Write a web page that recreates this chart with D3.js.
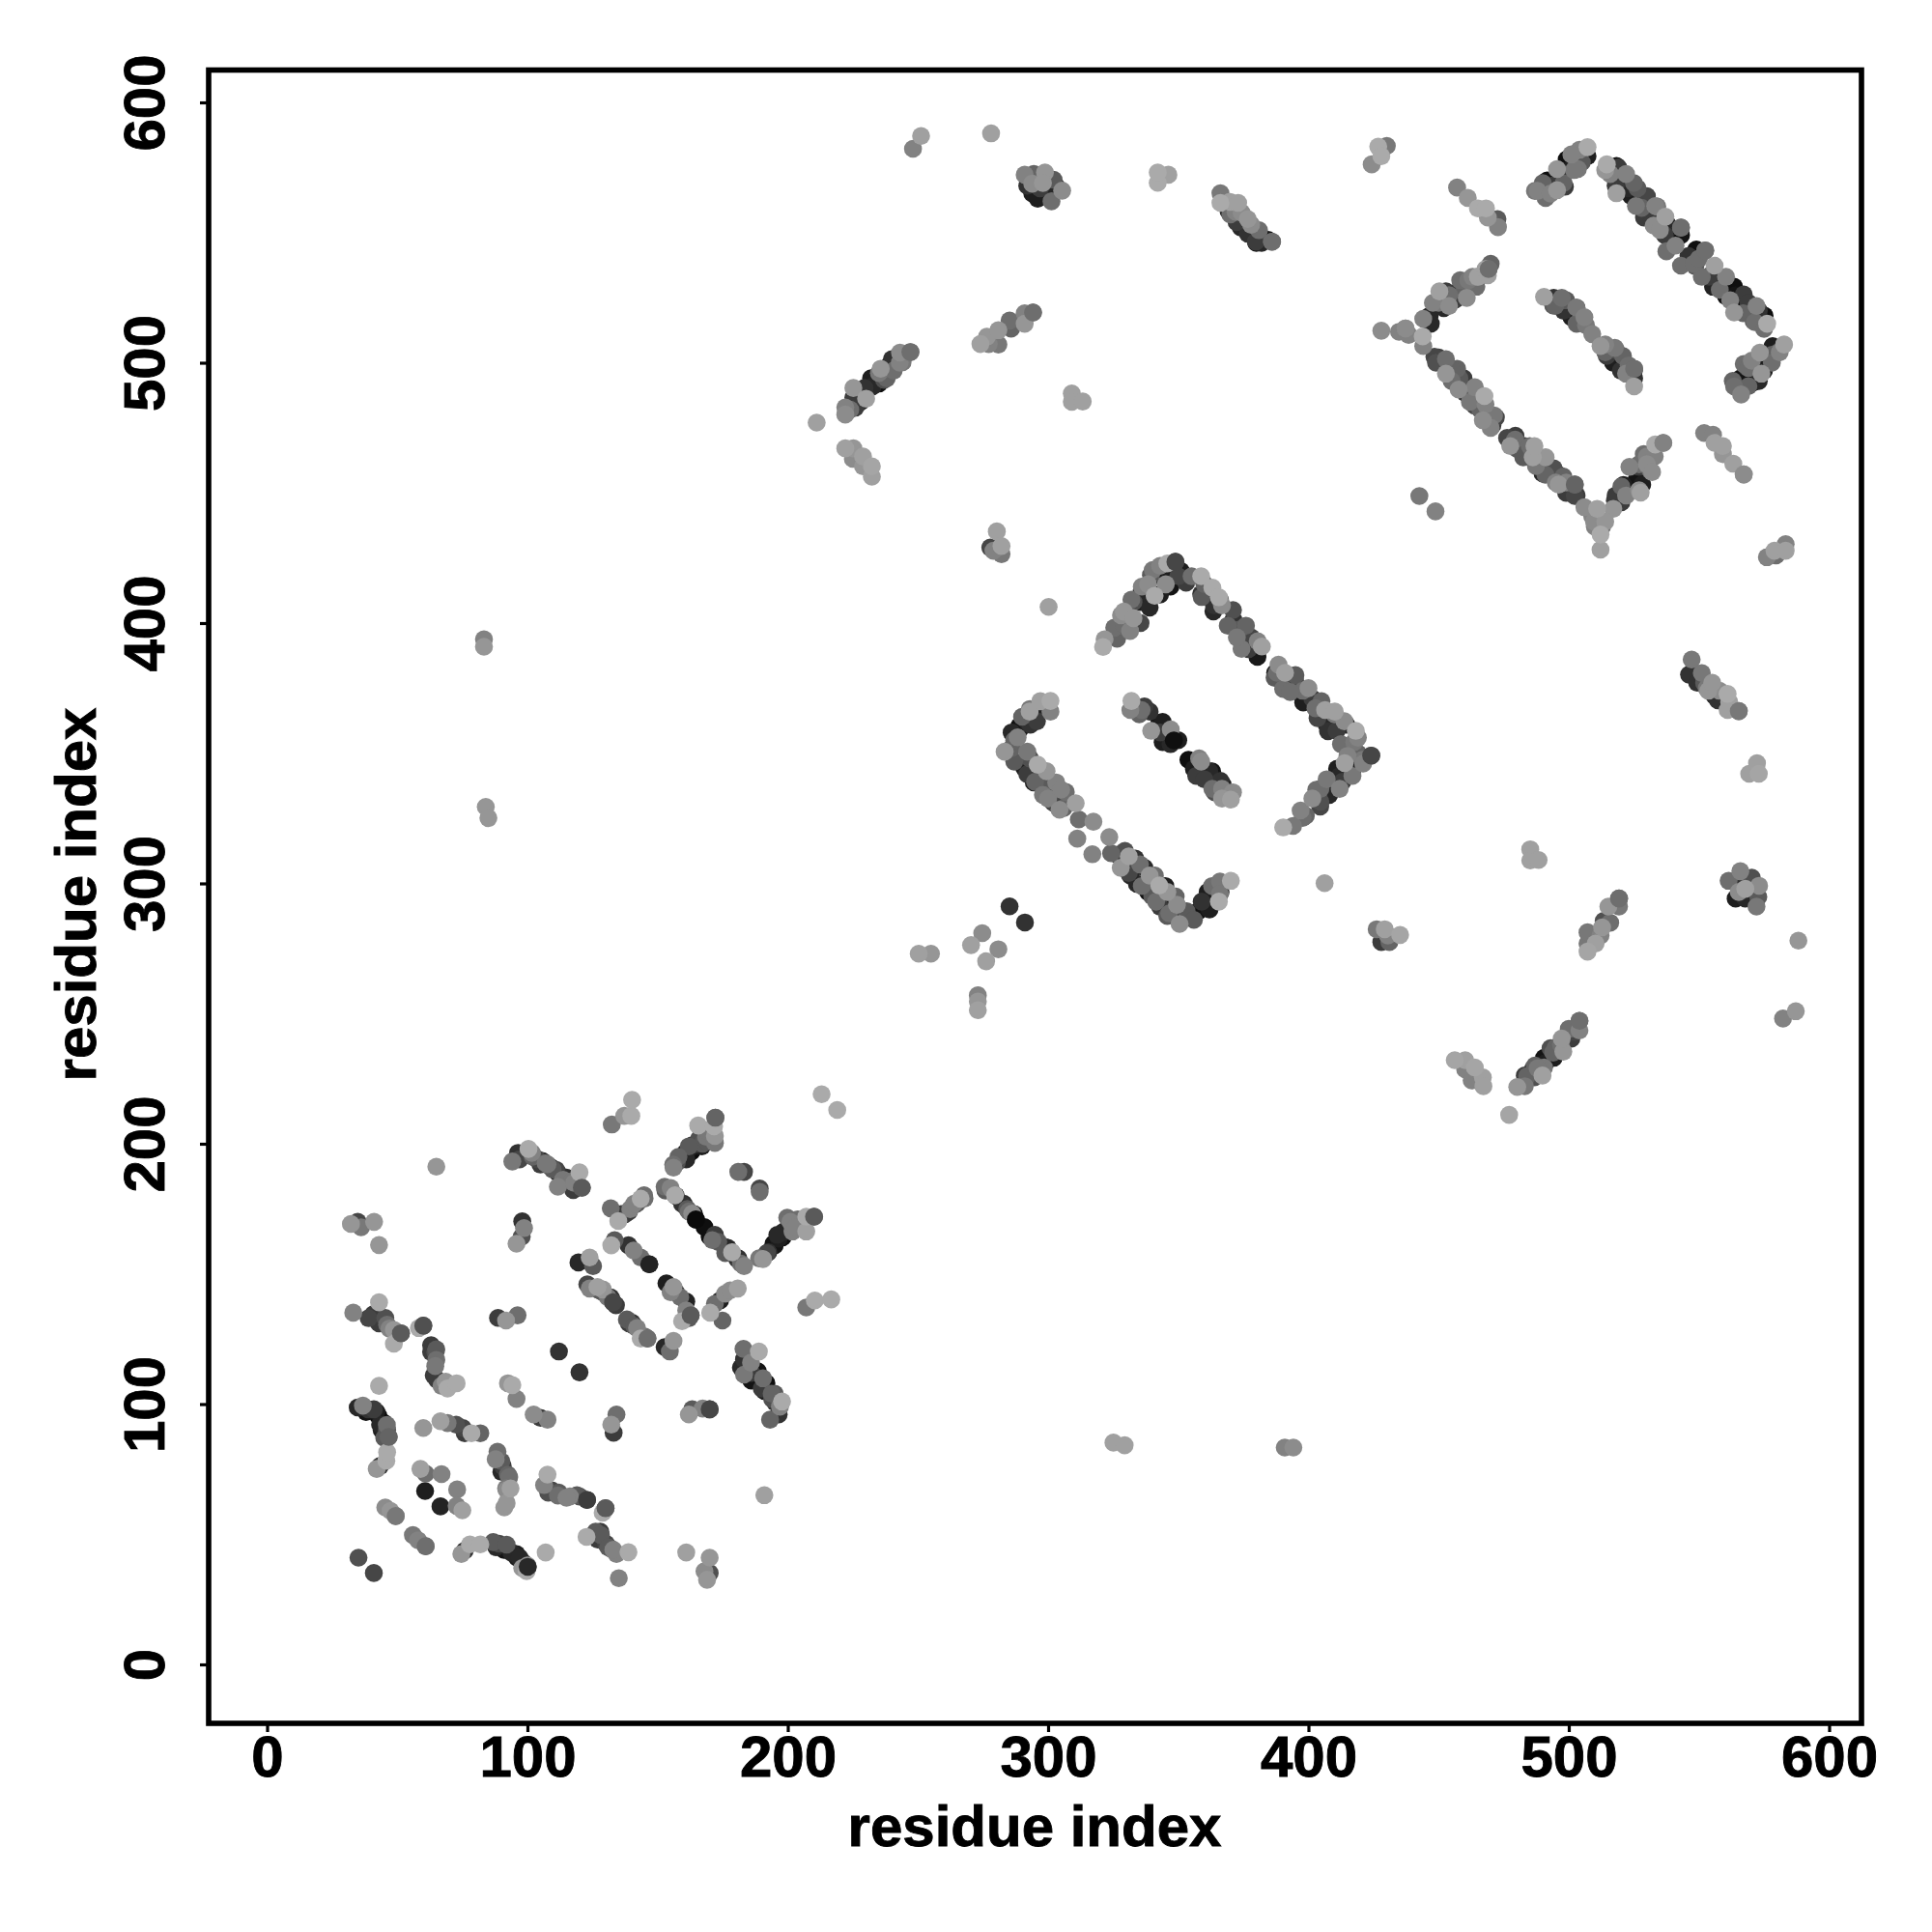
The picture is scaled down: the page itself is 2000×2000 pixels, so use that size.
<!DOCTYPE html>
<html><head><meta charset="utf-8">
<script src="https://cdn.jsdelivr.net/npm/d3@7/dist/d3.min.js"></script>
<style>html,body{margin:0;padding:0;background:#fff}svg{display:block}text{font-family:"Liberation Sans",Arial,sans-serif;font-weight:bold;fill:#000;stroke:#000;stroke-width:0.9px}</style>
</head><body><svg id="c" width="2000" height="2000"></svg>
<script>
const tickValues=[0,100,200,300,400,500,600];
const axisTitle="residue index";
// each contact: [residue x, residue y, shade level]
const domainLowA=[[132.4,207.4,120],[137.2,210.7,150],[139.9,210.7,170],[140.2,216.9,170],[213,219,170],[219,213,170],[65,191.2,150],
[94.2,193.2,120],[96.4,196.5,50],[100.4,198,170],[101.7,196.5,130],[103.7,194.1,70],[105.7,193.4,40],[107.7,192.1,120],[109.7,190.1,90],[111.7,188.8,40],[111.7,183.5,130],[113.7,186.2,120],[117,185.5,120],[117.6,182.2,60],[120,189,170],[120.9,183.1,90],
[95.8,161.6,150],[97.8,164.3,80],[98,170.2,50],[98.7,167.6,130],[32.2,169.2,150],[34.8,170,70],[36.1,167.9,120],[41.1,170,150],[43,161.1,150]];
const domainLowB=[[156.1,190.8,130],[157.4,192.8,80],[159.4,194.8,30],[160.7,196.5,20],[162,198,30],[163.3,199.4,40],[164.7,200,60],[166,200.7,20],[167.3,200,90],[165.6,207,170],[168.6,202.7,120],[172,200.3,120],[171.7,206.7,170],[172.2,210,100],
[132,175.2,110],[134.9,170.3,170],[137.5,172.9,60],[139.5,174.9,130],[141.5,176.9,90],[143.5,178.9,170],[144.8,180.2,110],
[152.7,183.5,110],[154.7,182.2,30],[156.7,180.2,170],[159.4,176.9,50],[161.4,174.9,90],[163.3,173.2,140],[164.7,170.9,10],
[170,164.3,15],[173.3,162.3,90],[175.9,160.3,30],[178.6,158.3,170],[180.6,155.7,50],[183.2,153,130],
[190.5,155.7,150],[192.5,158.3,50],[194.5,161.6,20],[196.5,163.6,30],[198.5,166.3,40],[201.8,166.3,130],[207.1,166.3,160],[199.8,171.6,110],[203.8,170.9,110],[207.1,172,170],[210.1,172,90],
[181,189.2,110],[183.2,189.2,70],[189.2,181.5,110],[189.2,182.8,70]];
const domainLowC=[[132.2,161,170],[133.5,163,90],[138.8,161,50],[140.8,159,130],[143.5,156.3,110],[146.8,153.7,35],[119.6,154.4,40],[123.9,156.3,160],[125.2,153,90],
[123.9,144.4,130],[126.9,145,160],[128.9,143,90],[130.9,141,120],[132.9,139.1,70],[138.2,132.5,90],[140.2,131.2,50],[142.1,129.2,130],[143.5,125.2,170],[146.1,125.2,110],
[152.7,121.9,40],[154.7,120.2,110],[156.1,124.3,150],[153.4,146.4,30],[156.1,145,150],[158.7,141.1,110],[161,139.4,35],[159.4,131.8,170],[162.7,134.1,90],
[170.2,135.1,170],[174.9,132.1,100],[172,138.5,110],[174,139.8,30],[175.9,142.4,140],[177.9,143.7,140],[180.8,144.4,160],[207.1,137.1,120],[210.4,139.8,170],[216.7,140.2,170],
[183,121.2,110],[183.2,117.2,50],[183.2,111.3,120],[188.9,120.2,170],[185.9,115.9,130],[188.5,112.6,20],[190.5,109.9,110],[191.8,108,15],[193.2,94,100],[196.5,96,50],[193.8,104,100],[195.1,100.7,50],[197.8,101,170],
[112.1,120.2,50],[120,112.2,50],[88.7,133.1,60],[91.8,132.1,150],[96.2,134.1,110]];
const domainLowD=[[33.1,135.1,130],[43,139.1,170],[40.8,134.5,60],[45.4,133.1,80],[43.4,132.5,60],[48.7,123.2,170],[46.1,130.5,110],[48.7,128.5,150],[51.4,127.2,90],[58.3,129.2,170],[60,130.1,80],
[63,122.6,60],[64.6,119.9,80],[64.6,114.6,120],[65.3,109.3,60],[69.3,106,170],[68.6,108.6,150],[72.8,108,170],[43,107,170],[92.5,108,150],[94.2,107.3,170],[95.8,102,130],[102.4,96,140],[105,94.7,60],[107.7,94,130],
[134.2,96,110],[132.2,92.1,150],[133.1,89,60],[162,96,150],[163.3,98,90],[167.3,98.3,130],[170,98,70],
[34.8,98.7,40],[36.8,99.4,130],[38.8,98,50],[40.8,97.4,20],[42.8,95.4,10],[43.4,92.1,40],[44.8,92.8,10],[46.1,90.1,90],[46.7,87.4,100],[42.1,75.1,150],[43.4,76.2,50],[45.8,78.2,170],[46.1,81.5,170],
[60,90.8,150],[66.6,93.4,160],[69.3,92.7,120],[72.6,92.1,80],[75.2,90.8,70],[75.9,88.8,60],[78.5,88.8,170],[81.9,88.8,100]];
const domainLowE=[[88.5,81.7,110],[87.8,78.8,130],[90.5,76.2,60],[92.5,72.9,100],[91.8,67.6,120],[93.5,67.6,160],[91.1,60.3,150],
[58.9,75.1,160],[60.9,73.3,110],[67,73.1,130],[60.7,66.6,30],[73,67.2,130],[66.6,60.7,35],[72.8,60.9,130],[75,59.2,160],
[107.7,72.9,170],[106.4,68.9,130],[109.4,66.9,70],[111.7,64.9,110],[116.3,64.5,130],[120,64.5,80],[122.9,63.2,60],[128.9,58.3,170],[130,60,90],
[45.4,60.3,140],[47.4,59,150],[49.4,57,120],[56,49.7,120],[58,47.7,130],[60.9,45.4,110],
[74.6,42.4,150],[75.9,43.7,50],[77.9,46.1,170],[81.9,46.1,170],[86.9,47,90],[89.1,46.4,70],[91.8,45,20],[93.8,43,40],[95.8,42.4,30],[99.7,35.8,170],[98.4,39.1,40],[100.1,37.5,40],[107,43,170],[35.1,41,80],[41,35.1,70],
[122.7,49,170],[126.2,51,90],[128.2,49.7,90],[130.2,46.4,70],[132.2,44.4,90],[134.2,42.4,130],[138.8,43.1,170],[135.1,33.1,130],[161,43,160],[170,41,150],[169,32.5,150],[168,35.8,140],[170,35.1,80],[191,65,160],
[83.3,393.8,130],[83.3,390.9,150],[84,329.4,150],[85,325.1,150],[325.1,85.2,160],[329.4,84.2,160],[390.9,83.3,130],[394.2,83.3,140]];
const domainMidA=[[277.8,429,70],[280.3,435.2,160],[279,427.8,130],[282.1,426.5,120],[282.1,429.6,160],[300.2,406.2,160],
[321.1,390.8,170],[321.7,393.8,150],[325.4,398.2,110],[329.1,399.4,110],[329.1,404.4,150],[332.8,401.9,150],[332.8,408.1,80],[335.3,408.1,30],[335.9,411.8,40],[338.4,414.9,140],[340.9,410.5,170],[340.2,420.4,120],[342.7,418,30],[345.2,414.9,140],[347.7,418,30],[345.8,422.9,170],[348.9,423.5,70],
[355.1,418,110],[358.8,411.2,50],[358.8,418,170],[363.7,406.8,50],[363.1,413.6,170],[365.6,409.9,170],[366.8,406.8,140],[371.2,401.3,50],[373.6,397.6,90],[374.3,390.1,120],[374.9,394.5,40],[378,394.5,70],[380.4,387,25],[382.1,391,160],
[387.2,380.9,30],[387.9,380.9,110],[391,380.9,160],[390.3,374.7,110],[394.9,377.8,70],[397.8,374,110],[401.5,371,60],[402.7,367.3,110],[406.4,366.6,160],[410.1,366,160],[407,361,40],[410.8,358.6,60],[413.8,362.3,140],[417.6,354.3,120],[418.2,358.6,170],
[390.3,321.5,170],[394.1,322.1,120],[397.8,325.2,110],[401.5,332.6,140],[404.6,331.4,80],[404.6,336.3,110],[407.7,335.7,15],[408.9,340,30],[412,336.3,130],[412,341.3,40],[413.9,346.2,160],[416.9,341.3,120],[416.9,346.8,20],[420.7,347.5,120],[424.1,349.1,70]];
const domainMidB=[[332,370.1,170],[331.6,366.6,130],[335.9,366.6,110],[339,366,50],[339.6,358.6,150],[342.7,361.7,20],[344,354.3,30],[347.1,359.2,140],[348.3,354.9,15],
[353.9,347.5,15],[356.9,341.3,60],[358.8,346.8,140],[361.9,343.1,40],[363.1,336.3,110],[366.2,339.4,50],[366.8,336.3,130],[366.8,332.6,150],[370.2,332.2,160],
[292.9,366,160],[296.9,366,35],[295.7,362.3,60],[300.9,366,130],[300.9,370.1,170],[293.2,361,50],[288.9,360.4,15],[288.3,356.1,130],
[283.3,350.6,150],[287,346.8,90],[292,350.6,120],[290.8,344.4,30],[296,345.6,170],[294.5,338.8,30],[299.4,343.1,150],[298.8,337.6,15],[300,332.6,130],[303.1,338.8,130],[303.8,335.1,40],[304.4,328.3,140],[306.8,335.1,110],[310.6,330.8,160],[311.8,324.6,110],[317.4,323.7,140],
[311.2,317.2,130],[317,311.2,130],[323.5,317.8,140],[324.2,311.6,100],[326.6,311,60],[327.9,306,150],[331,310.4,160],[331.6,303,40],[335.3,307.3,110],[334.1,299.8,40],[339,303,150],[338.4,296.7,15],[342.7,299.2,170],[341.5,293,110],[345.8,291.8,15],[345.8,296.7,150],[345.8,287.5,90],[349.5,291.8,140],[350.5,284.4,140],[353.2,289.3,90],
[357.6,289.3,15],[360.7,290.6,20],[361.3,296.7,30],[366.2,296.7,20],[365.6,293,170],[366,300.7,120],[370.2,301,170],
[285.2,291.2,50],[291.1,285,50],[250.3,273,160],[255,273,150],[274.7,280.9,140],[270.4,276.3,160],[280.9,274.7,140],[276.2,270.1,160],[273,257,130],[273,254.6,150],[273,251.3,160],[406.2,300.1,160]];
const domainHighA=[[251.2,587.1,160],[248.1,582.2,130],[278.1,588.1,160],
[291,572.2,130],[293.9,565.1,30],[294.5,572.5,100],[293.9,568.8,140],[298.8,573.1,150],[296.9,567,60],[300.7,565.7,30],[301.3,562,110],[302.1,570.3,90],[305.4,566.1,140],
[342.1,569.1,170],[342.1,573.1,170],[346.2,572.2,160],
[366.2,561.4,170],[366.2,565.1,120],[369.3,558.3,40],[369.9,561.8,160],[373,561.4,160],[372.4,554,60],[374.3,557.7,140],[376.7,549.6,50],[376.7,555.2,150],[379.8,546.5,60],[381,550.9,110],[384.5,547.2,20],[386,546.5,110],
[274,507.2,160],[276.5,510,150],[277.2,507.2,130],[280.9,512.5,150],[280.9,507,120],[285.2,516.2,110],[285.8,513.1,100],[291,519,130],[291,515,150],[294.2,519.3,110],
[222.1,480.1,140],[222.1,482.8,130],[226,482.8,60],[225.2,490.3,150],[225.2,486.6,60],[230.1,486.2,160],[229.5,490.3,50],[232.6,490.9,40],[232,494,30],[237,493.4,80],[235.7,497.7,150],[237,497,40],[240.7,497,110],[240,501.4,50],[244.1,500.2,120],[243.1,503.9,140],[247.1,504.1,110],[211.1,477,160],
[222.1,467.1,160],[225.2,467.1,150],[225,463.1,140],[228.9,464,160],[228.9,460.2,150],[232.3,460.2,165],[232.3,456.2,160],[309.1,488.2,160],[309.1,485,160],[313.3,485.1,160]];
const domainHighB=[[424.3,576.2,140],[426.8,583,170],[428,579.3,170],[430.1,583.3,120],[457.1,567.3,130],[461.2,563.3,150],[465.1,559.3,170],[468.2,559.3,170],[468.9,555.8,150],[472.6,555.2,90],[472.8,552.1,130],
[488,566,130],[491.1,563.3,110],[491.7,570,15],[494.2,568.2,60],[495.5,566.3,150],[498.5,567.6,60],[495.5,574.4,150],[499.8,573.8,30],[499.2,578.1,15],[503.5,574.4,120],[504.1,581.8,130],[507.2,579.3,30],[507.2,582.8,170],
[514.6,576.2,170],[515.9,572.5,130],[518.3,575.6,15],[518.3,565.1,160],[519.6,571.3,50],[522,572.5,130],[522.7,567,40],[526.4,567,90],[525.8,560.2,120],[528.9,562.9,15],[528.9,555.8,60],[533.2,560.2,130],[532.6,552.7,140],[537.1,556.1,160],[536.9,549,60],[543.1,549,20],[543.1,551.9,110],
[537.5,542.8,110],[543.1,537.3,110],[549,543.5,15],[552.4,543.1,110],[548.6,537,90],[551.1,533,110],[556,537.3,160],[555.4,529.2,35],[560.4,533,130],[560.4,525.5,15],[563.5,529.2,15],[567.2,526.2,60],[563.5,519.3,150],[564.1,521.8,15],[568.4,519.3,40],[572.1,521.8,130],[571.5,515.6,110],[575.2,518.1,15],[576.2,515,170],
[563.5,490.9,110],[566.2,487.8,130],[567.2,499.5,110],[568.4,498.3,50],[570.3,492.1,15],[570.3,500.8,130],[574,495.8,150],[573.4,499.5,15],[573.4,503.9,150],[577.7,500.8,15],[578.3,506.4,30],[580.2,503.9,100],[582.7,507,160],
[490.5,525.3,160],[494.2,524.9,50],[497.3,524.9,110],[494.8,521.8,100],[498.5,522.4,20],[502.9,521.2,120],[501,517.5,30],[506.6,514.4,120],[506,517.5,130],
[512.2,506.4,150],[514,507,130],[514.6,502.6,60],[517.7,505.7,120],[520.8,502.6,100],[521.4,498.9,15],[522,495.8,130],[525.1,490.9,160],[525.1,494,50],[525.1,497.7,110]];
const domainHighC=[[444.1,516.9,130],[446.6,518.1,40],[447.8,523,130],[450.3,521.8,30],[450.3,527.4,160],[452.8,527.4,60],[454,521.8,140],[456.5,524.3,60],[458.3,531.7,110],[460.8,524.9,140],[461.4,531.7,120],[464.5,529.2,110],[465.1,533,160],[468.9,533.6,160],[469.2,536,110],
[428,512.3,140],[434.8,511.9,130],[437.3,513.2,140],[438.5,510.7,130],[444.1,506.4,130],[443.9,510.1,170],
[448.4,502.3,70],[452.8,495.8,150],[452.8,501.4,110],[457.1,497.7,100],[457.7,489.7,140],[459.6,494,60],[460.2,488.4,50],[463.9,490.6,130],[463.9,483.5,70],[467,477.9,140],[467.6,483.5,50],[467.6,487.2,170],[470.7,476.1,60],[471.3,479.8,120],
[476.3,471.1,70],[477.5,468,150],[479.4,470.5,110],[483.1,468,60],[482.5,463.7,90],[486.2,463.7,160],[486.8,468,160],[487.4,460.3,120],[491.1,463.7,150],[489.9,457.5,40],[494.2,459.4,80],[494.8,456.3,30],[496.1,453.2,150],[497.9,456.3,100],[502.3,448.8,70],[502.3,453.2,100],
[506,444.5,140],[509.7,439,140],[510.9,443.9,160],[512.2,428.2,160],[512.2,434,170],[512.8,437.1,110],
[517.1,443.9,150],[517.7,447,60],[520.2,446.4,60],[520.2,452.5,100],[523.3,451.3,20],[523.3,460,130],[527,460,60],[527.6,450.1,160],[528.2,453.2,30],[528.8,464.9,110],[531.3,458.7,110],[533.2,468.6,170],[536.3,469.2,130],
[552,473,130],[555.4,472.3,130],[556,469.2,160],[559.2,468,160],[559.2,464.9,150],[563.2,461.2,160],[567.2,457.1,140],[442.6,448.8,120],[448.8,442.9,130],
[576.1,425.3,130],[579.6,426,110],[579,427.8,160],[583.3,427.8,160],[583.3,430.3,130]];
const domainHighD=[[546.2,380.2,50],[547.2,386,120],[549.3,377.1,50],[551.1,380.8,120],[553.6,374,150],[555.1,377.1,150],[557.3,370.3,50],[557.9,374,140],[561,366.6,160],[561.6,369.7,160],[561,372.8,170],[565.3,366.2,120],
[569.3,342.1,160],[572.3,346.2,160],[573,342.1,165],
[561.4,301,110],[564.1,294.2,30],[565.9,304.7,130],[565.3,300.4,50],[565.3,296.7,140],[567.8,294.2,40],[567.8,297.9,160],[570.3,302.2,80],[572.1,291.1,120],[572.8,294.8,90],[573.1,299.1,140],[588.2,278,150],[582.3,248.1,130],[587.2,250.9,150],
[507.2,273.8,165],[507.2,276.9,120],[507.2,281.2,120],[510.3,276.9,160],[512.2,280,130],[512.8,283.1,150],[513.4,285.6,80],[515.9,284.9,110],[515.2,291.1,150],[519.3,291.1,120],[519.3,294.2,110],
[485.2,313.1,160],[485.2,308.8,160],[488.4,309,160],[426.2,282.4,120],[428,277.5,60],[429.3,282.4,160],[431.1,277.5,100],[430.5,280,130],[435.2,280.2,165],
[456.2,232.1,165],[460.2,232.1,160],[460.2,228.6,130],[463.9,229.3,165],[462.7,224.3,130],[467,225.5,160],[467.2,222.1,160],[477.1,211.1,165],
[480.2,221.8,150],[483.1,222.1,120],[483.1,226.2,60],[486.8,225.5,80],[486.2,228.6,60],[490.5,229.3,120],[489.9,226.2,160],[490.5,233,20],[494.2,233,30],[493,236.7,80],[497.9,235.4,150],[497.3,240.4,150],[501,240.4,60],[500,244.1,110],[504.1,243.5,130],[504.1,247.2,110]];
const sideMid=[[286,352,100],[292,342,60],[293,348,80],[295,339,100],[297,341,40],[298,334,120],[301,339,90],[302,331,70],[305,336,130],[306,329,100],[329.5,312.5,80],[331,304,70],[333.5,309.5,50],[336,299,110],[337,306,40],[340,295,90],[341,303,110],[343,291,60],[345,299,30],[346.5,288.5,110],[349,295,100],[350,288,40],[359,293,50],[356,286,90],[363,299,110],[362,290,30],[366,296,120],
[353,415.5,60],[359,410,90],[360,415,100],[363.5,404.5,40],[366,409,120],[369,399,100],[371,405,80],[372.5,394.5,120],[376,399,100],[377,390,60],[380.5,393,130],[387,379,90],[388.5,384,140],[393,373.5,110],[395,380,90],[398,369.5,30],[400,375,140],[403.5,363.5,70],[405,370,100],[407.5,358.5,50],[410,365,120],[412.5,353.5,110],[414.5,361,40],[416,352,90],[419,356,130],
[326.5,394,100],[331.5,397,130],[328,403,140],[335.5,400,70],[332,409,110],[339,406,40],[336,414,130],[343,411,30],[339.5,418.5,90],[347,414,20],[343,422,130],[350,418,70],[351,420,30],
[399,326,100],[397,328,130],[404.5,329.5,70],[403,336,110],[408,334,40],[407,340,120],[413,339,60],[411,344,30],[417,344,30],[415,349,130],[421,346,130],[419,350,100],
[287,355,100],[286,358,40],[289,359,20],[290,364,100],[292,362,40],[293,367,120],[296,366,20],[297,370,160],
[335,365,100],[337,368,60],[343,358,60],[344,362,30],[347,353.5,40],[350,355,30],[356,344,30],[358,348,130],[360,340,60],[363,343,20],[364,335,80],[367,338,30],[371,335,140]];
const sideHigh=[[487,566,120],[490,569,100],[493,565,130],[495,570,20],[498,569,100],[498,573,40],[502,574,120],[501,580,130],[505,577,90],
[514,574,150],[518,568,60],[519,575,60],[524,564,30],[525,569,100],[528,559.5,100],[530,564,70],[532,555,60],[534,560,120],[535,551,140],[538,553,40],[541,545,130],[546,541,50],[548,538,110],[550,540,110],[554,533,60],[555,534,30],[558,528,110],[559,529,15],[562,524,130],[564,526,20],[567,519,100],[569,523,60],[571,516,90],[573,520,50],[575,513,110],
[563,493,100],[566,494,20],[569,498,110],[570,497,15],[569,491,100],[573,493,40],[575,497,30],[578,503,100],[581,504,130],[578,500,110],
[494,522,90],[498,520,50],[499,524,90],[503,515,100],[503,521,30],[509,511,130],[514,504,100],[517,500,30],[518,505,80],[520,497,50],[523,499,110],[525,497,30],
[447,515,40],[450,523,120],[452,521,40],[454,526,110],[456,525,20],[458,528,60],[460,528,100],[463,533,130],[465,533,140],[468,536,160],[470,538,100],
[449,500,80],[450,502,60],[455,493,110],[455,497,100],[458,490,90],[458,494,90],[462,485,120],[463,490,70],[466,482,100],[468,484,130],[470,475,130],[472,479,70],
[480,467,90],[479.5,472,60],[486,464,110],[485,468,110],[491,457,100],[490,463,80],[495,454,130],[496,457,60],[499,450,60],[499,454,130],[503,449,60],
[510,437,130],[514,439,150],[509,441,130],
[518,449,60],[521,453,30],[522,449,130],[526,455,20],[527,461,110],[527,451,140],[530,461,140],[532,458,140],[530,464,130],[533,464,130],
[228,485,40],[224,482,110],[227,488,30],[235,492,15],[235,496,120],[238,494,100],[239,499,30],[243,500,130],[245,503,120],
[296,563,30],[303,568,40],[298,569,150],[292,568,50],[370,557,110],[374,552,40],[372,558,130],[378,553,140],[382,546,40],[380,546,20],
[484,226,100],[488,229,120],[491,231,30],[495,237,100],[497,238,110],[502,243,70],[487,230,100],[494,235,100],
[548,381,40],[552,377,90],[556,372,40],[553,375,120]];
const sideLow=[[156,192,110],[158,195,100],[161,194,40],[163,197,10],[165,199,20],[167,199,30],[162,199,90],[166,202,80],[169,201,90],[169,205,120],[172,203,150],
[136,173,60],[139,174,60],[142,177,90],[141,177,130],[145,179,110],
[153,182,90],[155,183,130],[157,180,30],[160,177,40],[162,174,110],[164,173,15],[168,168,15],[171,163,110],[172,165,60],[176,158,90],[177,160,40],[182,154,110],[181,156,50],
[189,156,120],[192,158,70],[195,161,20],[196,165,40],[198,164,15],[201,170,130],[203,168,130],[205,170,110],
[97,194,70],[102,195,100],[105,192,60],[107,192.5,120],[109,191,30],[111,190,70],[115,187,50],[118,185,130],
[127,144,90],[129,144,150],[132,141,50],[134,138,60],[123,146,70],[139,131,60],[141,130,90],[145,126,110],
[155,143,130],[157,143,50],[161,136,130],[162,133,90],
[39,133,70],[43,131,60],[45,132,60],[49,128,110],[47,129,130],
[38,97,20],[41,98,60],[42,97,30],[44,90,30],[46,92,110],[45,87,90],
[88,45,40],[91,44,20],[92,46,90],[96,41,30],[97,41,40],[100,38,150],[98,37,150],
[127,48,60],[128,51,60],[131,45,90],[133,44,130],
[108,66,80],[112,66,90],[115,64,130],[119,65,90],
[90,74,40],[90,78,90],[93,72,110],[92,67,140],[92,62,150],
[63,120,60],[65,117,110],[65,121,90],[64,111,60],[67,107,130],
[182,114,40],[186,109,20],[186,112,60],[190,106,60],[191,105,30],[194,102,80],[195,104,90],[197,99,130]];
// contacts that sit on top of their neighbours in the picture
const topContacts=[[424.1,349.1,70],[348.9,423.5,70],[146.8,153.7,35],[164.7,170.9,10],[170,98,70],[100.1,37.5,40],[132.9,139.1,70],[120.9,183.1,90],[172.2,210,100],[210.1,172,90],[130,60,90],[122.9,63.2,60],[162.7,134.1,90],[146.1,125.2,110],[348.3,354.9,15],[543.1,551.9,110],[552.4,543.1,110],[525.1,497.7,110],[502.3,453.2,100],[469.2,536,110],[536.3,469.2,130],[567.2,457.1,140],[60,130.1,80],[51.4,127.2,90],[46.7,87.4,100],[60.9,45.4,110],[49.4,57,120],[386,546.5,110],[247.1,504.1,110],[294.2,519.3,110],[504.1,247.2,110],[519.3,294.2,110],[565.3,366.2,120],[437.3,513.2,140]];
const contacts=[...domainLowA,...domainLowB,...domainLowC,...domainLowD,...domainLowE,...domainMidA,...domainMidB,...domainHighA,...domainHighB,...domainHighC,...domainHighD,...sideLow,...sideMid,...sideHigh];

const svg=d3.select("#c");
const x=d3.scaleLinear().domain([0,600]).range([276.5,1893.5]);
const y=d3.scaleLinear().domain([0,600]).range([1723,106]);
const shade=d3.scaleLinear().domain([0,255]).range(["#000000","#ffffff"]);
const FS=60;
const ordered=[...d3.sort(contacts,d=>d[2]),...topContacts];

svg.append("g").selectAll("circle").data(ordered).join("circle")
  .attr("cx",d=>x(d[0])).attr("cy",d=>y(d[1])).attr("r",9.3).attr("fill",d=>shade(d[2]));

svg.append("rect").attr("x",216).attr("y",72.5).attr("width",1711).attr("height",1711.5)
  .attr("fill","none").attr("stroke","#000").attr("stroke-width",5.6);

const ax=svg.append("g").attr("transform","translate(0,1784)").call(d3.axisBottom(x).tickValues(tickValues).tickSize(9).tickPadding(0));
ax.select(".domain").remove();
ax.selectAll("line").attr("stroke","#000").attr("stroke-width",3.2);
ax.selectAll("text").attr("font-size",FS).attr("font-family",null).attr("y",55).attr("dy",null).attr("text-anchor","middle");
const ay=svg.append("g").attr("transform","translate(216,0)").call(d3.axisLeft(y).tickValues(tickValues).tickSize(9).tickPadding(0));
ay.select(".domain").remove();
ay.selectAll("line").attr("stroke","#000").attr("stroke-width",3.2);
ay.selectAll("text").attr("font-size",FS).attr("font-family",null).attr("x",null).attr("dy",null).attr("text-anchor","middle")
  .attr("transform","translate(-46,0) rotate(-90)");
svg.append("text").attr("x",1071).attr("y",1911).attr("text-anchor","middle").attr("font-size",FS).text(axisTitle);
svg.append("text").attr("transform","translate(99,926) rotate(-90)").attr("text-anchor","middle").attr("font-size",FS).text(axisTitle);
</script></body></html>
